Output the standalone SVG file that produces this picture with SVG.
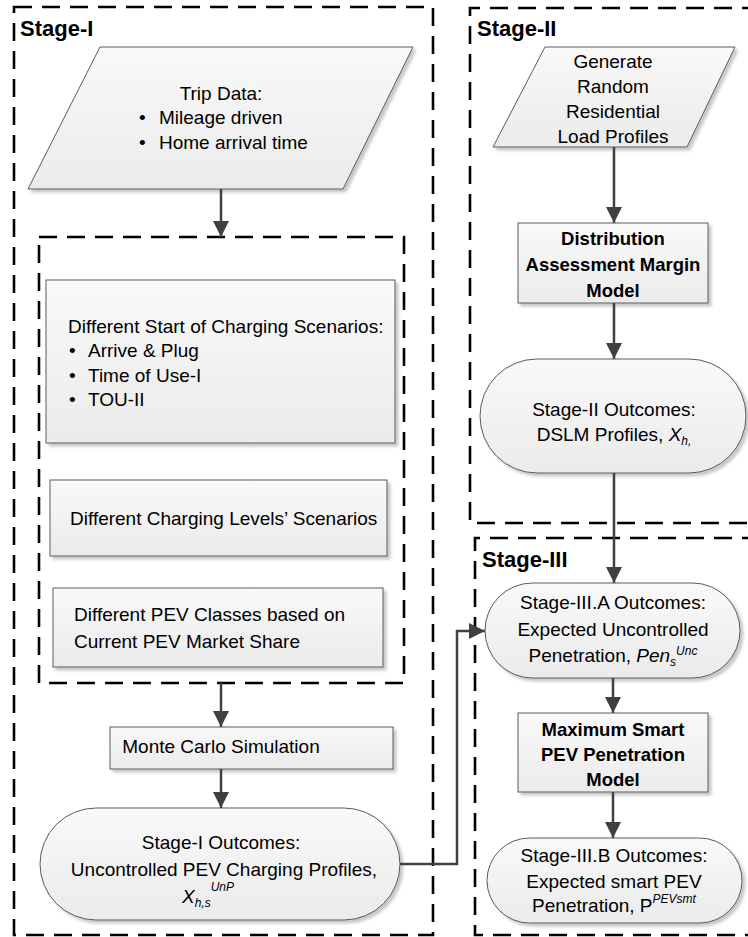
<svg xmlns="http://www.w3.org/2000/svg" width="748" height="937" viewBox="0 0 748 937">
<defs>
<linearGradient id="g" x1="0" y1="0" x2="0" y2="1">
<stop offset="0" stop-color="#f9f9f9"/>
<stop offset="1" stop-color="#ebebeb"/>
</linearGradient>
<filter id="sh" x="-10%" y="-10%" width="130%" height="130%">
<feDropShadow dx="3" dy="3" stdDeviation="1.5" flood-color="#000" flood-opacity="0.22"/>
</filter>
<marker id="ah" viewBox="0 0 16 16" refX="16" refY="8" markerWidth="16" markerHeight="16" markerUnits="userSpaceOnUse" orient="auto">
<path d="M0,0 L16,8 L0,16 z" fill="#404040"/>
</marker>
<style>
.frame{fill:none;stroke:#000;stroke-width:2.6;stroke-dasharray:18 10}
.shape{fill:url(#g);stroke:#5a5a5a;stroke-width:1;filter:url(#sh)}
.t{font-family:"Liberation Sans",Arial,sans-serif;font-size:19px;fill:#000}
.b{font-family:"Liberation Sans",Arial,sans-serif;font-size:18.5px;font-weight:bold;fill:#000}
.lbl{font-family:"Liberation Sans",Arial,sans-serif;font-size:22px;font-weight:bold;fill:#000}
.c{text-anchor:middle}
.i{font-style:italic}
.s{font-size:12px;font-style:italic}
.conn{fill:none;stroke:#404040;stroke-width:2.5}
</style>
</defs>

<g id="stage1-frame">
<rect class="frame" x="14" y="7" width="419" height="928"/>
<text class="lbl" x="20" y="36">Stage-I</text>
</g>
<g id="stage1-inner-frame">
<rect class="frame" x="39" y="237" width="365" height="446"/>
</g>
<g id="stage2-frame">
<path class="frame" d="M760,8 H470 V523 H760"/>
<text class="lbl" x="477" y="36">Stage-II</text>
</g>
<g id="stage3-frame">
<path class="frame" d="M760,538 H475 V935 H760"/>
<text class="lbl" x="482" y="567">Stage-III</text>
</g>

<g id="trip-data">
<polygon class="shape" points="100,47 413,47 343,189 28,189"/>
<text class="t c" x="221" y="100">Trip Data:</text>
<text class="t" x="139" y="124">•</text>
<text class="t" x="159" y="124">Mileage driven</text>
<text class="t" x="139" y="149">•</text>
<text class="t" x="159" y="149">Home arrival time</text>
</g>

<g id="start-scenarios">
<rect class="shape" x="46" y="280" width="349" height="163"/>
<text class="t" x="68" y="333">Different Start of Charging Scenarios:</text>
<text class="t" x="69" y="357">•</text>
<text class="t" x="88" y="357">Arrive &amp; Plug</text>
<text class="t" x="69" y="382">•</text>
<text class="t" x="88" y="382">Time of Use-I</text>
<text class="t" x="69" y="406">•</text>
<text class="t" x="88" y="406">TOU-II</text>
</g>

<g id="charging-levels">
<rect class="shape" x="50" y="480" width="337" height="76"/>
<text class="t" x="70" y="525">Different Charging Levels’ Scenarios</text>
</g>

<g id="pev-classes">
<rect class="shape" x="53" y="588" width="330" height="79"/>
<text class="t" x="74" y="621">Different PEV Classes based on</text>
<text class="t" x="74" y="648">Current PEV Market Share</text>
</g>

<g id="monte-carlo">
<rect class="shape" x="110" y="727" width="283" height="42"/>
<text class="t c" x="221" y="753">Monte Carlo Simulation</text>
</g>

<g id="stage1-outcomes">
<rect class="shape" x="40" y="808" width="360" height="112" rx="56" ry="56"/>
<text class="t c" x="221" y="849">Stage-I Outcomes:</text>
<text class="t c" x="224" y="876">Uncontrolled PEV Charging Profiles,</text>
<text class="t" x="182" y="903"><tspan class="i">X</tspan><tspan class="s" dy="4">h,s</tspan><tspan class="s" dy="-16">UnP</tspan></text>
</g>

<g id="load-profiles">
<polygon class="shape" points="545,47 735,47 687,147 493,147"/>
<text class="t c" x="613" y="68">Generate</text>
<text class="t c" x="613" y="93">Random</text>
<text class="t c" x="613" y="118">Residential</text>
<text class="t c" x="613" y="143">Load Profiles</text>
</g>

<g id="dalm-model">
<rect class="shape" x="518" y="223" width="190" height="80"/>
<text class="b c" x="613" y="245">Distribution</text>
<text class="b c" x="613" y="271">Assessment Margin</text>
<text class="b c" x="613" y="297">Model</text>
</g>

<g id="stage2-outcomes">
<rect class="shape" x="480" y="359" width="266" height="114" rx="57" ry="57"/>
<text class="t c" x="614" y="416">Stage-II Outcomes:</text>
<text class="t c" x="614" y="441">DSLM Profiles, <tspan class="i">X</tspan><tspan class="s" dy="4">h,</tspan></text>
</g>

<g id="stage3a-outcomes">
<rect class="shape" x="485" y="583" width="255" height="95" rx="47.5" ry="47.5"/>
<text class="t c" x="613" y="609">Stage-III.A Outcomes:</text>
<text class="t c" x="613" y="636">Expected Uncontrolled</text>
<text class="t c" x="613" y="662">Penetration, <tspan class="i">Pen</tspan><tspan class="s" dy="4">s</tspan><tspan class="s" dy="-11">Unc</tspan></text>
</g>

<g id="max-smart-model">
<rect class="shape" x="518" y="713" width="190" height="79"/>
<text class="b c" x="613" y="736">Maximum Smart</text>
<text class="b c" x="613" y="761">PEV Penetration</text>
<text class="b c" x="613" y="786">Model</text>
</g>

<g id="stage3b-outcomes">
<rect class="shape" x="487" y="838" width="255" height="85" rx="42.5" ry="42.5"/>
<text class="t c" x="614" y="862">Stage-III.B Outcomes:</text>
<text class="t c" x="614" y="888">Expected smart PEV</text>
<text class="t c" x="614" y="912">Penetration, P<tspan class="s" dy="-9">PEVsmt</tspan></text>
</g>

<g id="connectors">
<line class="conn" x1="221" y1="189" x2="221" y2="237" marker-end="url(#ah)"/>
<line class="conn" x1="221" y1="683" x2="221" y2="727" marker-end="url(#ah)"/>
<line class="conn" x1="221" y1="769" x2="221" y2="808" marker-end="url(#ah)"/>
<polyline class="conn" points="400,864 457,864 457,631 485,631" marker-end="url(#ah)"/>
<line class="conn" x1="614" y1="147" x2="614" y2="223" marker-end="url(#ah)"/>
<line class="conn" x1="614" y1="303" x2="614" y2="359" marker-end="url(#ah)"/>
<line class="conn" x1="614" y1="473" x2="614" y2="583" marker-end="url(#ah)"/>
<line class="conn" x1="613" y1="678" x2="613" y2="713" marker-end="url(#ah)"/>
<line class="conn" x1="613" y1="792" x2="613" y2="838" marker-end="url(#ah)"/>
</g>
</svg>
